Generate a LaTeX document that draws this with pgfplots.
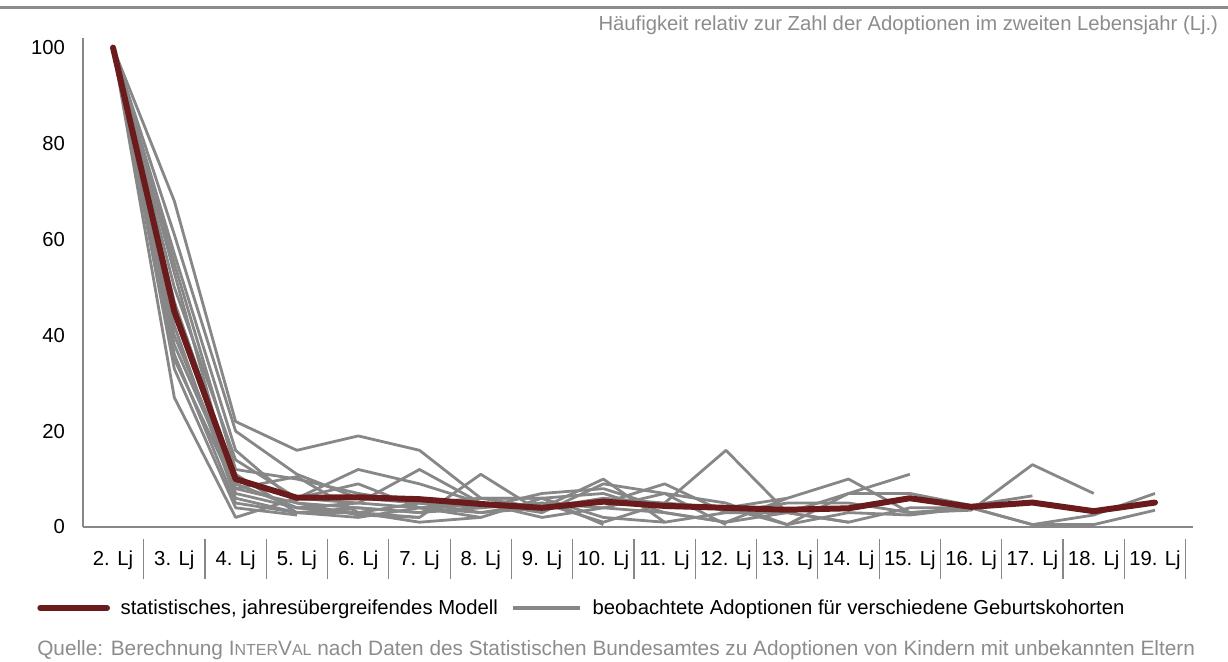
\documentclass[border=0pt]{standalone}
\usepackage{fontspec}
\setmainfont{Liberation Sans}
\usepackage{pgfplots}
\pgfplotsset{compat=1.18}
\usetikzlibrary{calc}
\definecolor{modelred}{HTML}{6B1B1B}
\definecolor{linegrey}{HTML}{878787}
\definecolor{txtgrey}{HTML}{8C8C8C}
\newcommand{\fs}{\fontsize{15.2}{18}\selectfont}
\newcommand{\fsq}{\fontsize{15.6}{18}\selectfont}
\newcommand{\fss}{\fontsize{12}{14}\selectfont}
\begin{document}
\begin{tikzpicture}
\begin{axis}[
  name=ax,
  scale only axis,
  width=832.5pt, height=366.75pt,
  xmin=-0.49, xmax=17.62,
  ymin=0, ymax=102,
  axis lines*=left,
  axis line style={linegrey, line width=0.9pt},
  xtick={0,...,17},
  xticklabels={2. Lj,3. Lj,4. Lj,5. Lj,6. Lj,7. Lj,8. Lj,9. Lj,10. Lj,11. Lj,12. Lj,13. Lj,14. Lj,15. Lj,16. Lj,17. Lj,18. Lj,19. Lj},
  ytick={0,20,40,60,80,100},
  major tick length=0pt,
  minor xtick={0.5,1.5,...,17.5},
  minor tick length=30pt,
  tick align=outside,
  minor x tick style={linegrey, line width=0.9pt, yshift=-9pt},
  xticklabel style={font=\fs, yshift=-14pt},
  yticklabel style={font=\fs, xshift=-10pt},
  /pgf/number format/assume math mode=true,
  clip=false,
  legend columns=2,
  legend cell align=left,
  legend style={draw=none, fill=none, font=\fs, at={(axis description cs:-0.0414,-0.1656)}, anchor=west, inner xsep=0pt,
    /tikz/every odd column/.append style={column sep=6pt},
    /tikz/every even column/.append style={column sep=8pt}},
  legend image code/.code={\draw[#1] (0pt,0pt) -- (50pt,0pt);},
  every axis plot/.append style={line join=round},
]
% observed cohorts (grey)
\addplot[linegrey, line width=2.1pt, forget plot] coordinates {(0,100)(1,50)(2,14)(3,6)(4,5)(5,4)(6,3)(7,5)(8,4)(9,3)(10,1)(11,3)(12,1)(13,4)(14,4)(15,0.5)(16,0.5)(17,3.5)};
\addplot[linegrey, line width=2.1pt, forget plot] coordinates {(0,100)(1,45)(2,8)(3,5)(4,4)(5,3)(6,6)(7,6)(8,2)(9,1)(10,3)(11,5)(12,5)(13,3)(14,4)(15,0.5)(16,2.5)(17,7)};
\addplot[linegrey, line width=2.1pt, forget plot] coordinates {(0,100)(1,38)(2,9)(3,4)(4,3)(5,5)(6,3)(7,4)(8,6)(9,5)(10,4)(11,6)(12,10)(13,3)(14,3.5)(15,13)(16,7)};
\addplot[linegrey, line width=2.1pt, forget plot] coordinates {(0,100)(1,55)(2,12)(3,10)(4,7)(5,5)(6,4)(7,7)(8,8)(9,4)(10,4)(11,0.5)(12,7)(13,7)(14,4.5)(15,6.5)};
\addplot[linegrey, line width=2.1pt, forget plot] coordinates {(0,100)(1,42)(2,6)(3,3)(4,2)(5,4)(6,5)(7,3)(8,9)(9,7)(10,5)(11,0.5)(12,3)(13,2.5)(14,4)};
\addplot[linegrey, line width=2.1pt, forget plot] coordinates {(0,100)(1,61)(2,20)(3,11)(4,6)(5,5)(6,6)(7,4)(8,5)(9,9)(10,3)(11,3)(12,7)(13,11)};
\addplot[linegrey, line width=2.1pt, forget plot] coordinates {(0,100)(1,36)(2,5)(3,3)(4,4)(5,3)(6,4)(7,5)(8,1)(9,5)(10,16)(11,3)(12,1)};
\addplot[linegrey, line width=2.1pt, forget plot] coordinates {(0,100)(1,47)(2,10)(3,6)(4,9)(5,4)(6,2)(7,6)(8,7)(9,3)(10,1)(11,6)};
\addplot[linegrey, line width=2.1pt, forget plot] coordinates {(0,100)(1,53)(2,7)(3,4)(4,5)(5,12)(6,5)(7,2)(8,4)(9,7)(10,0.5)};
\addplot[linegrey, line width=2.1pt, forget plot] coordinates {(0,100)(1,27)(2,2)(3,6)(4,12)(5,9)(6,5)(7,4)(8,10)(9,1)};
\addplot[linegrey, line width=2.1pt, forget plot] coordinates {(0,100)(1,68)(2,22)(3,16)(4,19)(5,16)(6,6)(7,6)(8,0.5)};
\addplot[linegrey, line width=2.1pt, forget plot] coordinates {(0,100)(1,40)(2,9)(3,4)(4,3)(5,2)(6,11)(7,3)};
\addplot[linegrey, line width=2.1pt, forget plot] coordinates {(0,100)(1,35)(2,8)(3,10.5)(4,3)(5,1)(6,2)};
\addplot[linegrey, line width=2.1pt, forget plot] coordinates {(0,100)(1,57)(2,16)(3,5)(4,2.5)(5,2)};
\addplot[linegrey, line width=2.1pt, forget plot] coordinates {(0,100)(1,44)(2,11)(3,3)(4,3)};
\addplot[linegrey, line width=2.1pt, forget plot] coordinates {(0,100)(1,33)(2,4)(3,2.5)};
% model (red)
\addplot[modelred, line width=4.5pt, line cap=round] coordinates {(0,100)(1,45)(2,10)(3,6.1)(4,6.2)(5,5.8)(6,4.8)(7,4.0)(8,5.3)(9,4.4)(10,4.0)(11,3.6)(12,3.9)(13,6.0)(14,4.2)(15,5.1)(16,3.3)(17,5.1)};
\addlegendentry{statistisches, jahresübergreifendes Modell}
\addlegendimage{linegrey, line width=3pt}
\addlegendentry{beobachtete Adoptionen für verschiedene Geburtskohorten}
\end{axis}
% top rule and annotation
\draw[txtgrey, line width=2.25pt] ($(ax.north west)+(-62.25pt,22.5pt)$) -- ($(ax.north east)+(26.25pt,22.5pt)$);
\node[anchor=east, text=txtgrey, font=\fs, inner sep=0pt] at ($(ax.north east)+(19pt,9.5pt)$) {Häufigkeit relativ zur Zahl der Adoptionen im zweiten Lebensjahr (Lj.)};
\node[anchor=west, text=txtgrey, font=\fsq, inner sep=0pt] at ($(ax.south west)+(-34.5pt,-92.5pt)$) {Quelle: Berechnung I{\fss NTER}V{\fss AL} nach Daten des Statistischen Bundesamtes zu Adoptionen von Kindern mit unbekannten Eltern};
\pgfresetboundingbox
\path ($(ax.south west)+(-62.25pt,-100.5pt)$) rectangle ($(ax.north east)+(26.25pt,28.5pt)$);
\end{tikzpicture}
\end{document}
